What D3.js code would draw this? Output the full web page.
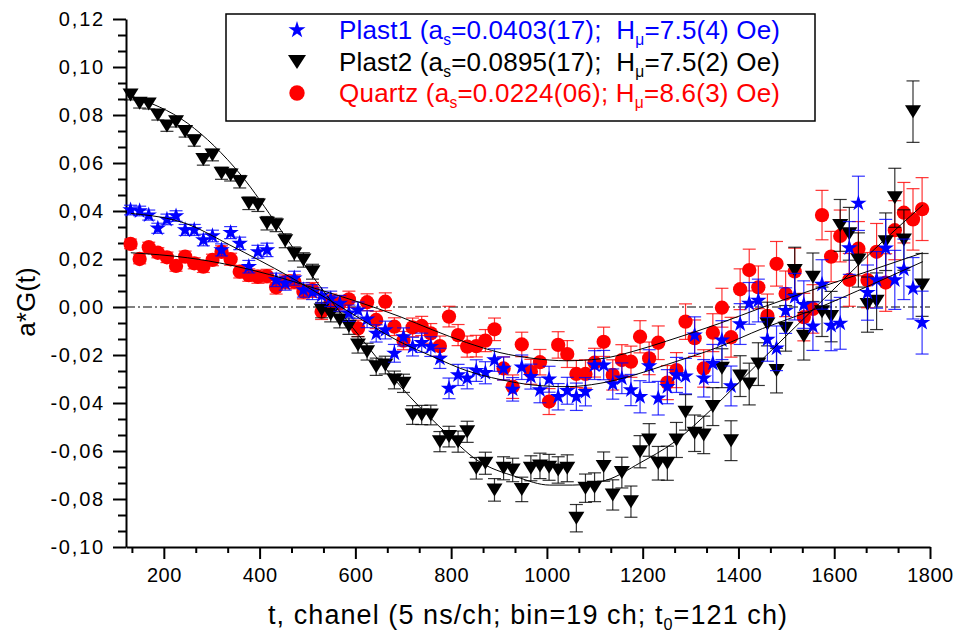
<!DOCTYPE html>
<html>
<head>
<meta charset="utf-8">
<script src="https://cdn.jsdelivr.net/npm/d3@7"></script>
<style>
  body { margin: 0; background: #fff; }
  svg text { font-family: "Liberation Sans", Arial, sans-serif; }
</style>
</head>
<body>
<svg id="chart" width="954" height="635"></svg>
<script>
// binning: t0 = 121 ch, 19 ch per bin
const t0 = 121, binWidth = 19;

const xTicks = [200, 400, 600, 800, 1000, 1200, 1400, 1600, 1800];
const yTicks = [-0.10, -0.08, -0.06, -0.04, -0.02, 0, 0.02, 0.04, 0.06, 0.08, 0.10, 0.12];

// a*G(t) per bin
const plast1 = [0.0404, 0.0400, 0.0383, 0.0328, 0.0365, 0.0379, 0.0321, 0.0321, 0.0279, 0.0296,
  0.0238, 0.0310, 0.0265, 0.0168, 0.0230, 0.0238, 0.0113, 0.0099, 0.0120, 0.0071,
  0.0062, 0.0048, 0.0034, 0.0015, -0.0026, -0.0013, -0.0051, -0.0110, -0.0096, -0.0193,
  -0.0125, -0.0165, -0.0149, -0.0165, -0.0214, -0.0339, -0.0283, -0.0297, -0.0265, -0.0274,
  -0.0221, -0.0256, -0.0343, -0.0251, -0.0290, -0.0346, -0.0301, -0.0374, -0.0349, -0.0374,
  -0.0353, -0.0242, -0.0242, -0.0321, -0.0297, -0.0346, -0.0374, -0.0246, -0.0380, -0.0332,
  -0.0283, -0.0288, -0.0117, -0.0297, -0.0235, -0.0138, -0.0329, -0.0071, 0.0015, 0.0027,
  -0.0135, -0.0172, -0.0015, 0.0043, 0.0010, -0.0080, 0.0094, -0.0077, -0.0068, 0.0246,
  0.0432, 0.0060, 0.0113, 0.0245, 0.0113, 0.0157, 0.0078, -0.0065];

const plast2 = [0.0883, 0.0849, 0.0846, 0.0800, 0.0754, 0.0772, 0.0731, 0.0693, 0.0615, 0.0633,
  0.0557, 0.0550, 0.0522, 0.0432, 0.0425, 0.0349, 0.0342, 0.0276, 0.0221, 0.0196,
  0.0147, -0.0013, -0.0030, -0.0054, -0.0080, -0.0158, -0.0186, -0.0249, -0.0242, -0.0304,
  -0.0318, -0.0450, -0.0450, -0.0450, -0.0561, -0.0540, -0.0561, -0.0520, -0.0672, -0.0651,
  -0.0762, -0.0672, -0.0679, -0.0760, -0.0672, -0.0662, -0.0668, -0.0679, -0.0672, -0.0880,
  -0.0755, -0.0751, -0.0665, -0.0783, -0.0690, -0.0811, -0.0603, -0.0554, -0.0651, -0.0651,
  -0.0554, -0.0439, -0.0526, -0.0533, -0.0415, -0.0255, -0.0557, -0.0288, -0.0321, -0.0238,
  -0.0071, -0.0265, -0.0089, 0.0152, -0.0122, 0.0124, -0.0020, -0.0040, 0.0340, 0.0305,
  0.0196, 0.0010, 0.0024, 0.0272, 0.0455, 0.0279, 0.0814, 0.0092];

const quartz = [0.0263, 0.0200, 0.0249, 0.0226, 0.0207, 0.0171, 0.0210, 0.0182, 0.0168, 0.0196,
  0.0230, 0.0199, 0.0147, 0.0133, 0.0126, 0.0129, 0.0082, 0.0105, 0.0105, 0.0064,
  0.0071, -0.0020, 0.0022, 0.0015, 0.0032, -0.0089, 0.0020, -0.0054, 0.0022, -0.0082,
  -0.0140, -0.0085, -0.0079, -0.0110, -0.0163, -0.0040, -0.0117, -0.0165, -0.0163, -0.0140,
  -0.0093, -0.0256, -0.0332, -0.0156, -0.0270, -0.0230, -0.0394, -0.0158, -0.0196, -0.0279,
  -0.0279, -0.0232, -0.0145, -0.0283, -0.0221, -0.0228, -0.0124, -0.0214, -0.0149, -0.0315,
  -0.0263, -0.0061, -0.0130, -0.0256, -0.0107, -0.0003, -0.0126, 0.0074, 0.0154, 0.0082,
  -0.0037, 0.0180, 0.0055, 0.0148, -0.0042, -0.0008, 0.0383, 0.0210, 0.0296, 0.0113,
  0.0243, 0.0112, 0.0230, 0.0102, 0.0320, 0.0393, 0.0365, 0.0408];

// error bar half-heights (all three samples have about the same statistics)
const errBar = [0.0020, 0.0020, 0.0021, 0.0021, 0.0022, 0.0022, 0.0023, 0.0023, 0.0024, 0.0024,
  0.0025, 0.0025, 0.0026, 0.0026, 0.0027, 0.0028, 0.0028, 0.0029, 0.0029, 0.0030,
  0.0031, 0.0032, 0.0032, 0.0033, 0.0034, 0.0034, 0.0035, 0.0036, 0.0037, 0.0037,
  0.0038, 0.0039, 0.0040, 0.0041, 0.0042, 0.0043, 0.0044, 0.0044, 0.0045, 0.0046,
  0.0047, 0.0048, 0.0049, 0.0051, 0.0052, 0.0053, 0.0054, 0.0055, 0.0056, 0.0057,
  0.0059, 0.0060, 0.0061, 0.0063, 0.0064, 0.0065, 0.0067, 0.0068, 0.0070, 0.0071,
  0.0073, 0.0074, 0.0076, 0.0078, 0.0079, 0.0081, 0.0083, 0.0085, 0.0087, 0.0089,
  0.0091, 0.0093, 0.0095, 0.0097, 0.0099, 0.0101, 0.0103, 0.0105, 0.0108, 0.0110,
  0.0113, 0.0115, 0.0118, 0.0120, 0.0123, 0.0126, 0.0128, 0.0131];

// fit curves [channel, value]
const fitPlast1 = [[131, 0.039], [250, 0.0345], [338, 0.0258], [463, 0.0126], [570, 0.0],
  [693, -0.0145], [762, -0.0207], [832, -0.0265], [902, -0.0302], [971, -0.0325], [1041, -0.0332],
  [1111, -0.0318], [1180, -0.0285], [1250, -0.024], [1361, -0.0165], [1450, -0.009],
  [1556, -0.0012], [1680, 0.0095], [1785, 0.0189]];
const fitPlast2 = [[131, 0.088], [250, 0.0765], [361, 0.0550], [440, 0.0333], [519, 0.0105],
  [600, -0.010], [714, -0.0374], [787, -0.052], [854, -0.0638], [937, -0.0708], [1006, -0.0742],
  [1054, -0.0742], [1125, -0.0721], [1194, -0.065], [1263, -0.0567], [1347, -0.042],
  [1388, -0.034], [1459, -0.020], [1528, -0.0065], [1597, 0.007], [1681, 0.0235], [1785, 0.0425]];
const fitQuartz = [[131, 0.0226], [250, 0.0205], [338, 0.0175], [421, 0.0135], [520, 0.0075],
  [600, 0.0025], [693, -0.004], [762, -0.0096], [832, -0.0148], [902, -0.019], [971, -0.0214],
  [1041, -0.0224], [1111, -0.0216], [1180, -0.0185], [1250, -0.0142], [1361, -0.0068],
  [1452, 0.0], [1560, 0.0075], [1680, 0.0155], [1785, 0.0226]];

const FONT = '"Liberation Sans", Arial, sans-serif';
const svg = d3.select("#chart");
svg.append("rect").attr("width", 954).attr("height", 635).attr("fill", "#fff");

const x = d3.scaleLinear().domain([t0, 1800]).range([126, 930]);
const y = d3.scaleLinear().domain([-0.10, 0.12]).range([547, 19]);
const chan = i => t0 + binWidth * (i + 0.5);

// minor ticks: two between each pair of labelled ticks
const xMinor = d3.range(2, 27).filter(k => k % 3).map(k => k * 200 / 3);
const yMinor = d3.range(0, 34).filter(k => k % 3).map(k => -0.10 + k * 0.02 / 3);

const fmtY = d => d3.format(".2f")(d).replace("\u2212", "-").replace(".", ",");

svg.append("g").attr("transform", "translate(0,547)")
  .call(d3.axisBottom(x).tickValues(xMinor).tickSize(6).tickSizeOuter(0).tickFormat(""))
  .call(g => g.select(".domain").remove())
  .selectAll("line").attr("stroke-width", 2);
svg.append("g").attr("transform", "translate(126,0)")
  .call(d3.axisLeft(y).tickValues(yMinor).tickSize(8).tickSizeOuter(0).tickFormat(""))
  .call(g => g.select(".domain").remove())
  .selectAll("line").attr("stroke-width", 2);

const xAxis = svg.append("g").attr("transform", "translate(0,547)")
  .call(d3.axisBottom(x).tickValues(xTicks).tickSize(12).tickSizeOuter(0).tickPadding(9)
    .tickFormat(d3.format("d")))
  .attr("font-family", FONT).attr("font-size", 20);
xAxis.selectAll("line, path").attr("stroke-width", 2);
xAxis.selectAll("text").attr("letter-spacing", 0.5);

const yAxis = svg.append("g").attr("transform", "translate(126,0)")
  .call(d3.axisLeft(y).tickValues(yTicks).tickSize(13).tickSizeOuter(0).tickPadding(8).tickFormat(fmtY))
  .attr("font-family", FONT).attr("font-size", 20);
yAxis.selectAll("line, path").attr("stroke-width", 2);
yAxis.selectAll("text").attr("letter-spacing", 1.8);

// zero reference line
svg.append("line")
  .attr("x1", x(t0)).attr("x2", x(1800)).attr("y1", y(0)).attr("y2", y(0))
  .attr("stroke", "#000").attr("stroke-width", 1).attr("stroke-dasharray", "9,3,2,3");

const tri = (w, h) => `M${-w / 2},${-h / 2}L${w / 2},${-h / 2}L0,${h / 2}Z`;
const star = s => d3.symbol(d3.symbolStar, s)();
const shapes = {
  circle: big => d3.symbol(d3.symbolCircle, big ? 185 : 160)(),
  triangle: big => big ? tri(18, 14) : tri(16, 13),
  star: big => big ? star(90) : star(84)
};

const series = [
  {values: quartz, color: "#ff0000", shape: "circle"},
  {values: plast2, color: "#000000", shape: "triangle"},
  {values: plast1, color: "#0000ff", shape: "star"}
];

series.forEach(s => {
  const g = svg.append("g");
  const bars = g.selectAll("g.err").data(s.values).enter().append("g")
    .attr("stroke", s.color).attr("stroke-opacity", 0.8).attr("stroke-width", 1.2);
  bars.append("line")
    .attr("x1", (d, i) => x(chan(i))).attr("x2", (d, i) => x(chan(i)))
    .attr("y1", (d, i) => y(d - errBar[i])).attr("y2", (d, i) => y(d + errBar[i]));
  [-1, 1].forEach(sign => {
    bars.append("line")
      .attr("x1", (d, i) => x(chan(i)) - 6.5).attr("x2", (d, i) => x(chan(i)) + 6.5)
      .attr("y1", (d, i) => y(d + sign * errBar[i])).attr("y2", (d, i) => y(d + sign * errBar[i]));
  });
  g.selectAll("path.mark").data(s.values).enter().append("path")
    .attr("d", shapes[s.shape](false))
    .attr("transform", (d, i) => `translate(${x(chan(i))},${y(d)})`)
    .attr("fill", s.color);
});

// fit curves
const fitLine = d3.line().x(d => x(d[0])).y(d => y(d[1])).curve(d3.curveMonotoneX);
[fitPlast1, fitPlast2, fitQuartz].forEach(f => {
  svg.append("path").attr("d", fitLine(f))
    .attr("fill", "none").attr("stroke", "#000").attr("stroke-width", 1);
});

// legend
const legend = svg.append("g");
legend.append("rect").attr("x", 226).attr("y", 14).attr("width", 589).attr("height", 107)
  .attr("fill", "#fff").attr("stroke", "#000").attr("stroke-width", 1.5);

const legendRows = [
  {color: "#0000ff", shape: "star", cy: 30,
    parts: [["Plast1 (a", 0], ["s", 1], ["=0.0403(17);  H", 0], ["\u03bc", 1], ["=7.5(4) Oe)", 0]]},
  {color: "#000000", shape: "triangle", cy: 62,
    parts: [["Plast2 (a", 0], ["s", 1], ["=0.0895(17);  H", 0], ["\u03bc", 1], ["=7.5(2) Oe)", 0]]},
  {color: "#ff0000", shape: "circle", cy: 93,
    parts: [["Quartz (a", 0], ["s", 1], ["=0.0224(06); H", 0], ["\u03bc", 1], ["=8.6(3) Oe)", 0]]}
];

function richText(sel, parts, subShift) {
  let prevSub = 0;
  parts.forEach(([txt, sub]) => {
    const t = sel.append("tspan").text(txt);
    if (sub && !prevSub) t.attr("dy", subShift).attr("font-size", "0.6em");
    if (!sub && prevSub) t.attr("dy", -subShift);
    prevSub = sub;
  });
}

legendRows.forEach(r => {
  legend.append("path").attr("d", shapes[r.shape](true))
    .attr("transform", `translate(297,${r.cy})`).attr("fill", r.color);
  const t = legend.append("text")
    .attr("x", 339).attr("y", r.cy + 9)
    .attr("font-size", 26).attr("fill", r.color)
    .attr("textLength", 441).attr("lengthAdjust", "spacing")
    .style("white-space", "pre");
  richText(t, r.parts, 6);
});

// axis titles
const xTitle = svg.append("text")
  .attr("x", 268).attr("y", 624)
  .attr("font-size", 27).attr("fill", "#000")
  .attr("textLength", 519).attr("lengthAdjust", "spacing");
richText(xTitle, [["t, chanel (5 ns/ch; bin=19 ch; t", 0], ["0", 1], ["=121 ch)", 0]], 6);

svg.append("text")
  .attr("transform", "translate(35,302) rotate(-90)")
  .attr("text-anchor", "middle")
  .attr("font-size", 26).attr("fill", "#000")
  .text("a*G(t)");
</script>
</body>
</html>
